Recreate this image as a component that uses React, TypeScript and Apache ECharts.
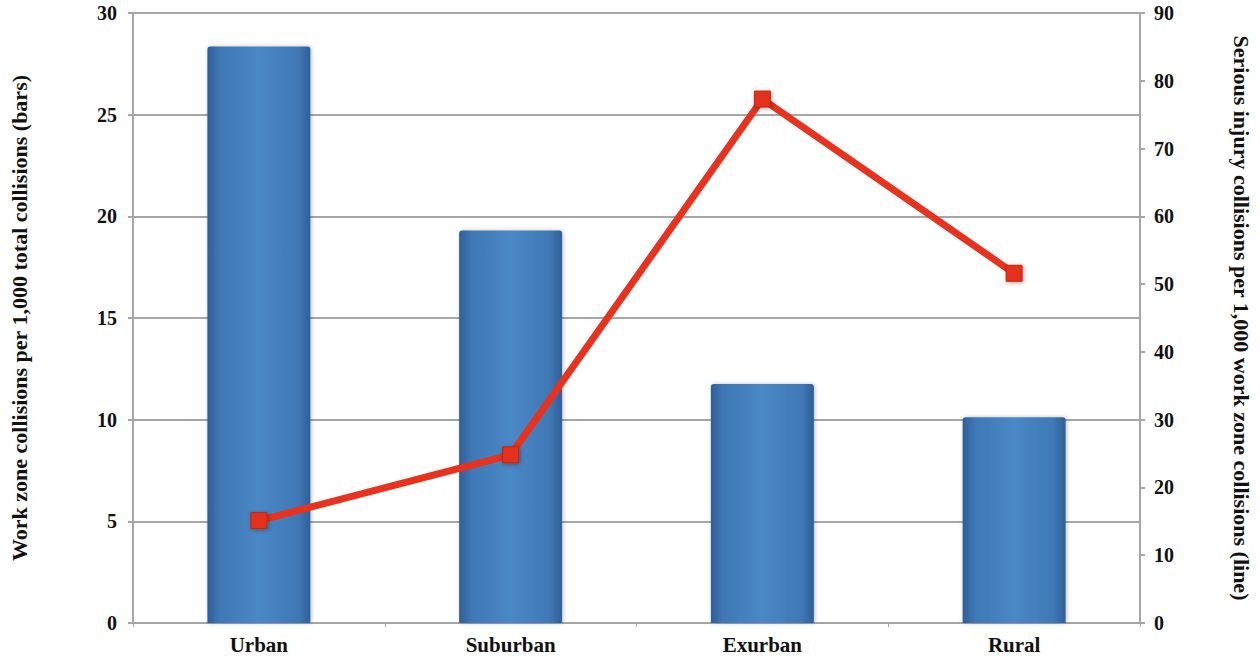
import React, { useEffect, useRef } from "react";
import * as echarts from "echarts";

const categories = ["Urban", "Suburban", "Exurban", "Rural"];
const workZoneRate = [28.35, 19.3, 11.76, 10.12];
const seriousInjuryRate = [15.1, 24.8, 77.3, 51.6];
const leftTitle = "Work zone collisions per 1,000 total collisions (bars)";
const rightTitle = "Serious injury collisions per 1,000 work zone collisions (line)";

const FONT = "'Liberation Serif', 'DejaVu Serif', serif";

export default function App() {
  const ref = useRef<HTMLDivElement>(null);
  useEffect(() => {
    if (!ref.current) return;
    const chart = echarts.init(ref.current, undefined, { renderer: "svg" });
    const barColor = new echarts.graphic.LinearGradient(0, 0, 1, 0, [
      { offset: 0, color: "#2f5f98" },
      { offset: 0.12, color: "#3f78b5" },
      { offset: 0.5, color: "#4a88c6" },
      { offset: 0.88, color: "#3f78b5" },
      { offset: 1, color: "#2f5f98" },
    ]);
    chart.setOption({
      animation: false,
      backgroundColor: "#ffffff",
      grid: { left: 132, right: 117, top: 13, bottom: 36 },
      xAxis: {
        type: "category",
        data: categories,
        axisLine: { lineStyle: { color: "#a6a6a6", width: 2 } },
        axisTick: { show: true, length: 4, lineStyle: { color: "#a6a6a6" } },
        axisLabel: {
          color: "#111",
          fontFamily: FONT,
          fontWeight: "bold",
          fontSize: 21,
          margin: 11,
        },
      },
      yAxis: [
        {
          type: "value",
          min: 0,
          max: 30,
          interval: 5,
          position: "left",
          name: leftTitle,
          nameLocation: "middle",
          nameRotate: 90,
          nameGap: 103,
          nameTextStyle: {
            color: "#111",
            fontFamily: FONT,
            fontWeight: "bold",
            fontSize: 22,
          },
          axisLine: { show: true, lineStyle: { color: "#a6a6a6", width: 2 } },
          axisTick: { show: true, length: 5, lineStyle: { color: "#a6a6a6", width: 2 } },
          splitLine: { show: true, lineStyle: { color: "#a6a6a6", width: 2 } },
          axisLabel: {
            color: "#111",
            fontFamily: FONT,
            fontWeight: "bold",
            fontSize: 20,
            margin: 16,
          },
        },
        {
          type: "value",
          min: 0,
          max: 90,
          interval: 10,
          position: "right",
          name: rightTitle,
          nameLocation: "middle",
          nameRotate: -90,
          nameGap: 90,
          nameTextStyle: {
            color: "#111",
            fontFamily: FONT,
            fontWeight: "bold",
            fontSize: 22,
          },
          axisLine: { show: true, lineStyle: { color: "#a6a6a6", width: 2 } },
          axisTick: { show: true, length: 5, lineStyle: { color: "#a6a6a6", width: 2 } },
          splitLine: { show: false },
          axisLabel: {
            color: "#111",
            fontFamily: FONT,
            fontWeight: "bold",
            fontSize: 20,
            margin: 14,
          },
        },
      ],
      series: [
        {
          type: "bar",
          yAxisIndex: 0,
          data: workZoneRate,
          barWidth: 103,
          itemStyle: {
            color: barColor,
            borderRadius: [3, 3, 0, 0],
            shadowColor: "rgba(0,0,0,0.25)",
            shadowBlur: 4,
            shadowOffsetX: 1,
          },
          z: 2,
        },
        {
          type: "line",
          yAxisIndex: 1,
          data: seriousInjuryRate,
          symbol: "rect",
          symbolSize: 16,
          lineStyle: { color: "#e8321e", width: 7 },
          itemStyle: {
            color: "#e2301c",
            borderColor: "#c8240f",
            borderWidth: 1,
            shadowColor: "rgba(0,0,0,0.35)",
            shadowBlur: 4,
            shadowOffsetX: 1,
            shadowOffsetY: 1,
          },
          z: 5,
        },
      ],
    });
    return () => chart.dispose();
  }, []);
  return (
    <div
      ref={ref}
      style={{ position: "fixed", left: 0, top: 0, width: 1260, height: 659 }}
    />
  );
}
